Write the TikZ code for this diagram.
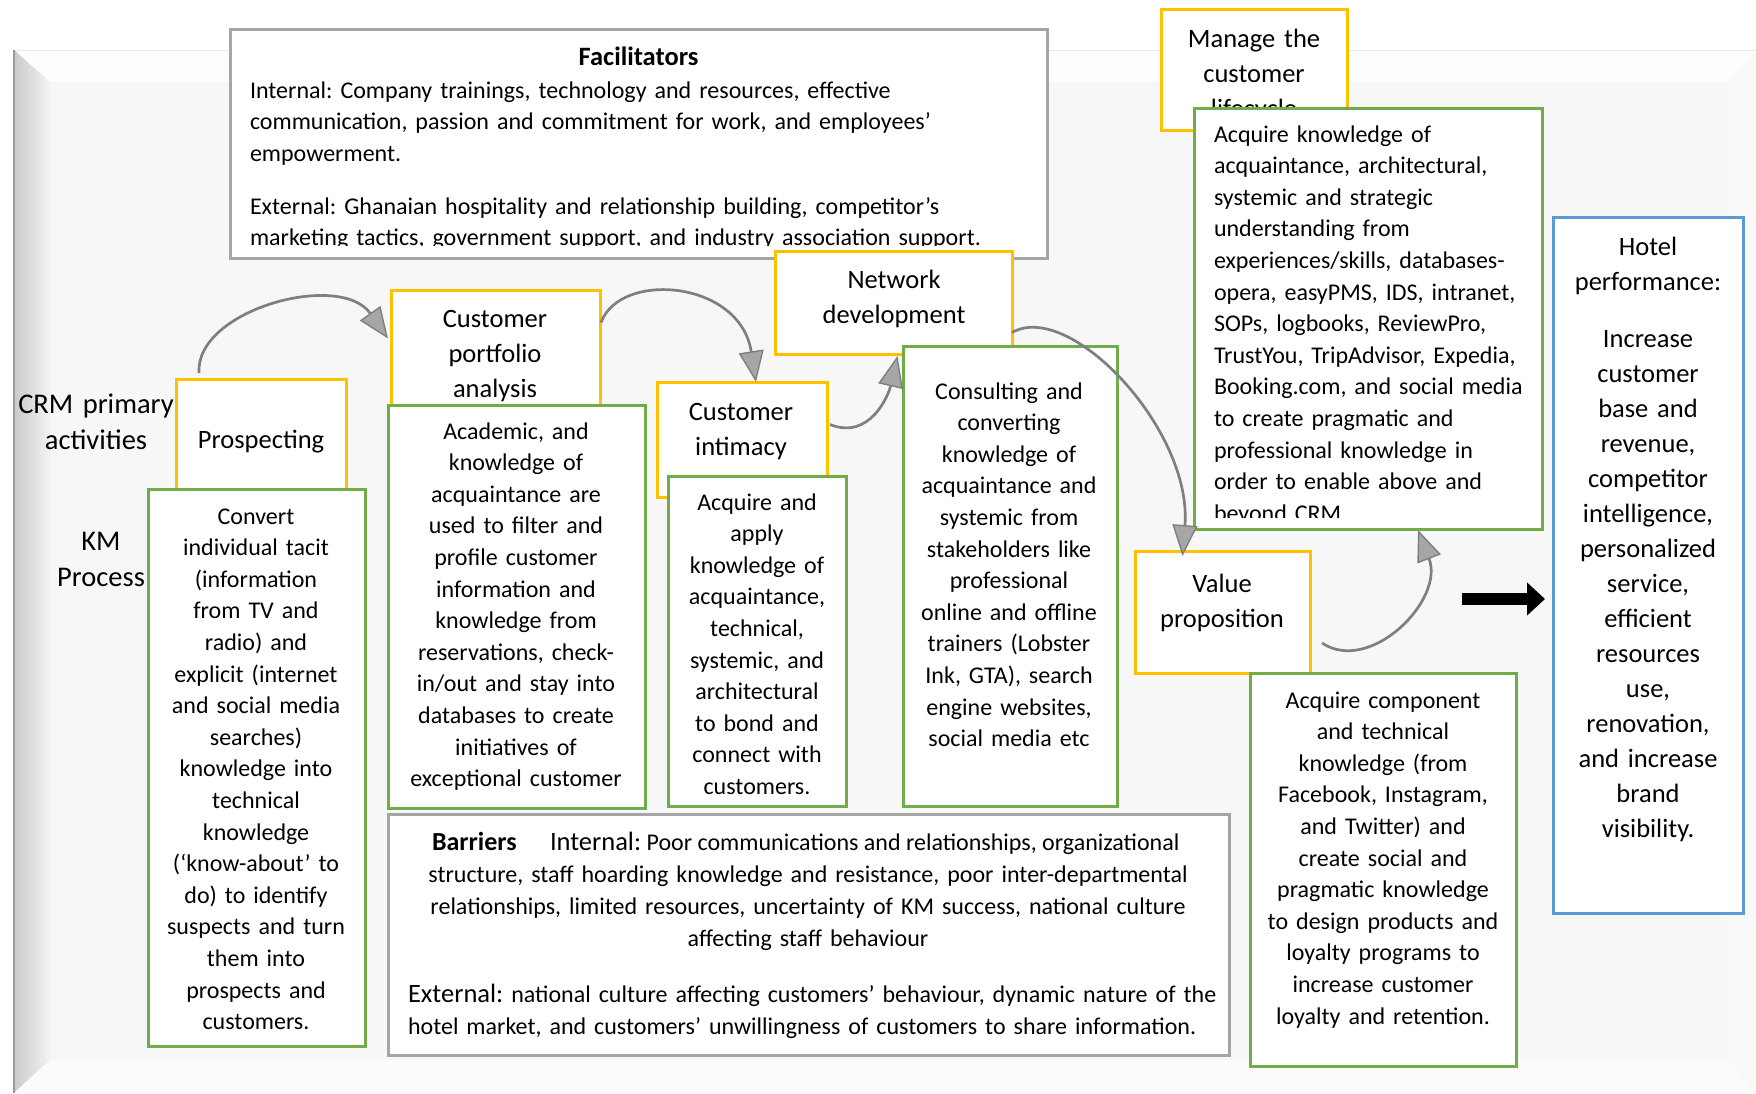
\documentclass[tikz,border=0pt]{standalone}
\usepackage{fontspec}
\setmainfont{Carlito}
\usetikzlibrary{arrows.meta}
\frenchspacing
\definecolor{boxyellow}{HTML}{FFC000}
\definecolor{boxgreen}{HTML}{70AD47}
\definecolor{boxblue}{HTML}{5B9BD5}
\definecolor{boxgrey}{HTML}{A5A5A5}
\definecolor{flowline}{HTML}{7F7F7F}
\definecolor{flowhead}{HTML}{A6A6A6}
\definecolor{face}{HTML}{F7F7F7}
\definecolor{topbevel}{HTML}{FDFDFD}
\definecolor{bottombevel}{HTML}{FBFBFB}
\definecolor{rightbevel}{HTML}{F9F9F9}
\definecolor{edgedark}{HTML}{CACACA}
\definecolor{edgelight}{HTML}{F3F3F3}
\definecolor{edgeline}{HTML}{9A9A9A}
\definecolor{rimline}{HTML}{E8E8E8}

\begin{document}
\begin{tikzpicture}[x=1pt,y=-1pt,
  every node/.style={inner sep=0pt, outer sep=0pt},
  frame/.style={draw, line width=3pt, fill=white, anchor=north west},
  activity/.style={frame, draw=boxyellow},
  kmbox/.style={frame, draw=boxgreen},
  factorbox/.style={frame, draw=boxgrey},
  resultbox/.style={frame, draw=boxblue},
  bodytext/.style={font=\fontsize{24}{31.6}\selectfont, text width=#1, align=center, anchor=base},
  bodyleft/.style={font=\fontsize{24}{31.6}\selectfont, text width=#1, align=left, anchor=base west},
  bigtext/.style={font=\fontsize{26.5}{35}\selectfont, text width=#1, align=center, anchor=base},
  sidetext/.style={font=\fontsize{28.5}{36}\selectfont, text width=#1, align=center, anchor=base},
  bartext/.style={font=\fontsize{24}{32}\selectfont},
  flow/.style={draw=flowline, line width=2.7pt,
    -{Triangle[length=31pt,width=25pt,fill=flowhead,line width=1.4pt]}},
  bigarrow/.style={draw=black, line width=12pt, -{Triangle[length=18pt,width=32pt]}}
]
% canvas and bevelled frame
\path[use as bounding box] (0,0) rectangle (1756,1093);
\fill[white] (0,0) rectangle (1756,1093);
\fill[face] (50,82) rectangle (1727,1060);
\fill[topbevel] (14,50) -- (1756,50) -- (1727,82) -- (50,82) -- cycle;
\shade[left color=edgedark, right color=edgelight] (14,50) -- (50,82) -- (50,1060) -- (14,1093) -- cycle;
\fill[bottombevel] (14,1093) -- (50,1060) -- (1727,1060) -- (1756,1093) -- cycle;
\fill[rightbevel] (1727,82) -- (1756,50) -- (1756,1093) -- (1727,1060) -- cycle;
\draw[rimline, line width=1pt] (14,50) -- (1756,50);
\draw[edgeline, line width=2.5pt] (14,50) -- (14,1093);

% facilitators
\node[factorbox, minimum width=817pt, minimum height=229pt] (fac) at (230,29) {};
\node[font=\fontsize{26.5}{35}\selectfont\bfseries, anchor=base] (factitle) at (638.5,65) {Facilitators};
\node[bodyleft=790pt] (facint) at (250,98) {Internal: Company trainings, technology and resources, effective\\communication, passion and commitment for work, and employees’\\empowerment.};
\begin{scope}
  \clip (230,29) rectangle (1047,245);
  \node[bodyleft=790pt] (facext) at (250,214) {External: Ghanaian hospitality and relationship building, competitor’s\\marketing tactics, government support, and industry association support.};
\end{scope}

% row labels
\node[sidetext=170pt] (crmlabel) at (96,413) {CRM primary\\activities};
\node[sidetext=120pt] (kmlabel) at (101,550) {KM\\Process};

% CRM activities
\node[activity, minimum width=186pt, minimum height=121pt] (man) at (1161,9) {};
\node[bigtext=180pt] (mant) at (1254,47) {Manage the\\customer\\lifecycle};
\node[activity, minimum width=170pt, minimum height=114pt] (pro) at (176,379) {};
\node[bigtext=160pt] (prot) at (261,448) {Prospecting};
\node[activity, minimum width=209pt, minimum height=115pt] (cpa) at (391,290) {};
\node[bigtext=200pt] (cpat) at (495,327) {Customer\\portfolio\\analysis};
\node[activity, minimum width=170pt, minimum height=115pt] (ci) at (657,382) {};
\node[bigtext=160pt] (cit) at (741,420) {Customer\\intimacy};
\node[activity, minimum width=237pt, minimum height=103pt] (nd) at (775,251) {};
\node[bigtext=230pt] (ndt) at (894,288) {Network\\development};
\node[activity, minimum width=175pt, minimum height=122pt] (vp) at (1135,551) {};
\node[bigtext=170pt] (vpt) at (1222,592) {Value\\proposition};

% KM processes
\node[kmbox, minimum width=348pt, minimum height=421pt] (gtr) at (1194,108) {};
\begin{scope}
  \clip (1196,110) rectangle (1540,517);
  \node[bodyleft=340pt] (gtrt) at (1214,142) {Acquire knowledge of\\acquaintance, architectural,\\systemic and strategic\\understanding from\\experiences/skills, databases-\\opera, easyPMS, IDS, intranet,\\SOPs, logbooks, ReviewPro,\\TrustYou, TripAdvisor, Expedia,\\Booking.com, and social media\\to create pragmatic and\\professional knowledge in\\order to enable above and\\beyond CRM.};
\end{scope}
\node[kmbox, minimum width=217pt, minimum height=557pt] (g1) at (148,489) {};
\node[bodytext=215pt] (g1t) at (256,524) {Convert\\individual tacit\\(information\\from TV and\\radio) and\\explicit (internet\\and social media\\searches)\\knowledge into\\technical\\knowledge\\(‘know-about’ to\\do) to identify\\suspects and turn\\them into\\prospects and\\customers.};
\node[kmbox, minimum width=257pt, minimum height=403pt] (g2) at (388,405) {};
\node[bodytext=255pt] (g2t) at (516,439) {Academic, and\\knowledge of\\acquaintance are\\used to filter and\\profile customer\\information and\\knowledge from\\reservations, check-\\in/out and stay into\\databases to create\\initiatives of\\exceptional customer};
\node[kmbox, minimum width=178pt, minimum height=330pt] (g3) at (668,476) {};
\node[bodytext=176pt] (g3t) at (757,510) {Acquire and\\apply\\knowledge of\\acquaintance,\\technical,\\systemic, and\\architectural\\to bond and\\connect with\\customers.};
\node[kmbox, minimum width=214pt, minimum height=460pt] (g4) at (903,346) {};
\node[bodytext=212pt] (g4t) at (1009,399) {Consulting and\\converting\\knowledge of\\acquaintance and\\systemic from\\stakeholders like\\professional\\online and offline\\trainers (Lobster\\Ink, GTA), search\\engine websites,\\social media etc};
\node[kmbox, minimum width=266pt, minimum height=393pt] (g5) at (1250,673) {};
\node[bodytext=264pt] (g5t) at (1383,708) {Acquire component\\and technical\\knowledge (from\\Facebook, Instagram,\\and Twitter) and\\create social and\\pragmatic knowledge\\to design products and\\loyalty programs to\\increase customer\\loyalty and retention.};

% barriers
\node[factorbox, minimum width=841pt, minimum height=241pt] (bar) at (388,814) {};
\node[font=\fontsize{26}{32}\selectfont\bfseries, anchor=base west] (bartitle) at (432,850) {Barriers};
\node[bartext, anchor=base west] (barint) at (550,850) {{\fontsize{26.5}{32}\selectfont Internal:} Poor communications and relationships, organizational};
\node[bartext, text width=830pt, align=center, anchor=base] (barintmore) at (808,882) {structure, staff hoarding knowledge and resistance, poor inter-departmental\\relationships, limited resources, uncertainty of KM success, national culture\\affecting staff behaviour};
\node[bartext, text width=820pt, align=left, anchor=base west] (barext) at (408,1002) {{\fontsize{26.5}{32}\selectfont External:} national culture affecting customers’ behaviour, dynamic nature of the\\hotel market, and customers’ unwillingness of customers to share information.};

% outcome
\node[resultbox, minimum width=190pt, minimum height=696pt] (hotel) at (1553,217) {};
\node[bigtext=185pt] (hotelt) at (1648,255) {Hotel\\performance:};
\node[bigtext=185pt] (hotelb) at (1648,347) {Increase\\customer\\base and\\revenue,\\competitor\\intelligence,\\personalized\\service,\\efficient\\resources\\use,\\renovation,\\and increase\\brand\\visibility.};

% flow between CRM activities
\path[flow] ([xshift=23pt,yshift=6pt]pro.north west) .. controls +(-4,-63) and +(-48,-68) .. ([xshift=-3pt,yshift=9pt]cpa.west);
\path[flow] ([xshift=1pt,yshift=25pt]cpa.east) .. controls +(19,-52) and +(-16,-102) .. ([xshift=14pt]ci.north);
\path[flow] ([xshift=3pt,yshift=15pt]ci.east) .. controls +(40,16) and +(-9,39) .. ([xshift=4pt,yshift=-2pt]nd.south);
\path[flow] ([yshift=-30pt]nd.east) .. controls +(58,-33) and +(10,-126) .. ([xshift=-40pt,yshift=-5pt]vp.north);
\path[flow] ([xshift=12pt,yshift=-31pt]vp.east) .. controls +(48,32) and +(27,70) .. ([xshift=50pt,yshift=-1pt]gtr.south);

% result arrow
\coordinate (arrowtail) at (1462,599);
\path[bigarrow] (arrowtail) -- ([xshift=-8pt,yshift=-34pt]hotel.west);
\end{tikzpicture}
\end{document}
